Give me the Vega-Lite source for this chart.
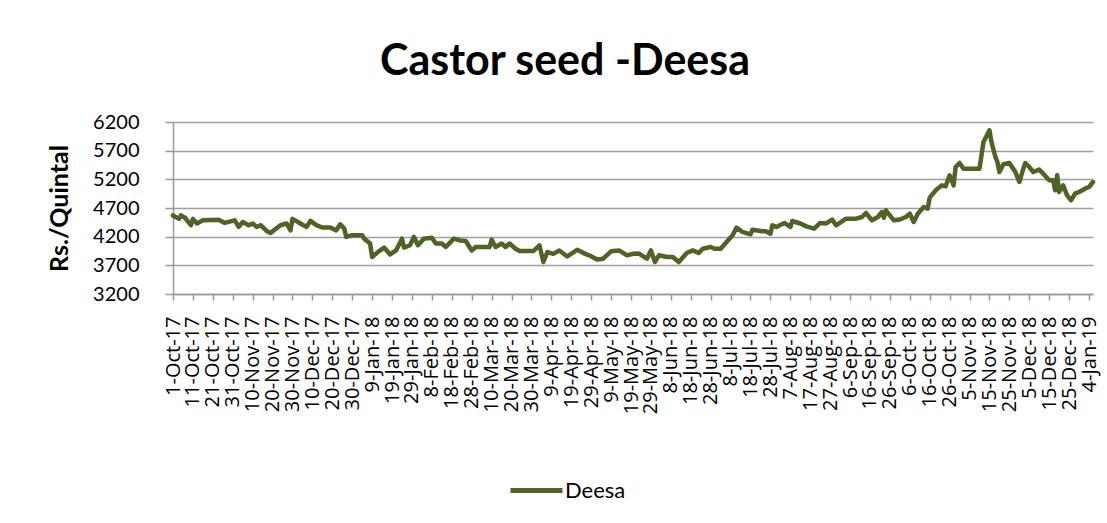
{
  "$schema": "https://vega.github.io/schema/vega-lite/v6.json",
  "autosize": {"type": "none"},
  "padding": {"left": 173, "top": 122, "right": 14, "bottom": 229},
  "width": 920,
  "height": 172,
  "background": "white",
  "title": {
    "text": "Castor seed -Deesa",
    "font": "Lato",
    "fontSize": 43,
    "fontWeight": "bold",
    "color": "#000000",
    "anchor": "middle",
    "frame": "group",
    "dx": -68,
    "offset": 28
  },
  "config": {
    "view": {"stroke": null},
    "font": "Lato"
  },
  "data": {
    "values": [
      {"date": "2017-10-01", "price": 4570, "market": "Deesa"},
      {"date": "2017-10-04", "price": 4510, "market": "Deesa"},
      {"date": "2017-10-05", "price": 4570, "market": "Deesa"},
      {"date": "2017-10-07", "price": 4530, "market": "Deesa"},
      {"date": "2017-10-10", "price": 4400, "market": "Deesa"},
      {"date": "2017-10-11", "price": 4510, "market": "Deesa"},
      {"date": "2017-10-13", "price": 4430, "market": "Deesa"},
      {"date": "2017-10-16", "price": 4485, "market": "Deesa"},
      {"date": "2017-10-24", "price": 4495, "market": "Deesa"},
      {"date": "2017-10-27", "price": 4440, "market": "Deesa"},
      {"date": "2017-11-01", "price": 4485, "market": "Deesa"},
      {"date": "2017-11-03", "price": 4370, "market": "Deesa"},
      {"date": "2017-11-05", "price": 4455, "market": "Deesa"},
      {"date": "2017-11-08", "price": 4400, "market": "Deesa"},
      {"date": "2017-11-10", "price": 4430, "market": "Deesa"},
      {"date": "2017-11-12", "price": 4370, "market": "Deesa"},
      {"date": "2017-11-14", "price": 4400, "market": "Deesa"},
      {"date": "2017-11-17", "price": 4300, "market": "Deesa"},
      {"date": "2017-11-19", "price": 4265, "market": "Deesa"},
      {"date": "2017-11-21", "price": 4320, "market": "Deesa"},
      {"date": "2017-11-24", "price": 4400, "market": "Deesa"},
      {"date": "2017-11-27", "price": 4430, "market": "Deesa"},
      {"date": "2017-11-29", "price": 4310, "market": "Deesa"},
      {"date": "2017-11-30", "price": 4510, "market": "Deesa"},
      {"date": "2017-12-04", "price": 4430, "market": "Deesa"},
      {"date": "2017-12-07", "price": 4370, "market": "Deesa"},
      {"date": "2017-12-09", "price": 4475, "market": "Deesa"},
      {"date": "2017-12-12", "price": 4400, "market": "Deesa"},
      {"date": "2017-12-15", "price": 4360, "market": "Deesa"},
      {"date": "2017-12-19", "price": 4360, "market": "Deesa"},
      {"date": "2017-12-22", "price": 4310, "market": "Deesa"},
      {"date": "2017-12-24", "price": 4415, "market": "Deesa"},
      {"date": "2017-12-26", "price": 4340, "market": "Deesa"},
      {"date": "2017-12-27", "price": 4195, "market": "Deesa"},
      {"date": "2017-12-30", "price": 4225, "market": "Deesa"},
      {"date": "2018-01-04", "price": 4225, "market": "Deesa"},
      {"date": "2018-01-05", "price": 4165, "market": "Deesa"},
      {"date": "2018-01-08", "price": 4080, "market": "Deesa"},
      {"date": "2018-01-09", "price": 3845, "market": "Deesa"},
      {"date": "2018-01-12", "price": 3935, "market": "Deesa"},
      {"date": "2018-01-15", "price": 4010, "market": "Deesa"},
      {"date": "2018-01-18", "price": 3890, "market": "Deesa"},
      {"date": "2018-01-21", "price": 3960, "market": "Deesa"},
      {"date": "2018-01-24", "price": 4165, "market": "Deesa"},
      {"date": "2018-01-25", "price": 4010, "market": "Deesa"},
      {"date": "2018-01-28", "price": 4050, "market": "Deesa"},
      {"date": "2018-01-30", "price": 4195, "market": "Deesa"},
      {"date": "2018-02-01", "price": 4050, "market": "Deesa"},
      {"date": "2018-02-04", "price": 4165, "market": "Deesa"},
      {"date": "2018-02-08", "price": 4180, "market": "Deesa"},
      {"date": "2018-02-10", "price": 4080, "market": "Deesa"},
      {"date": "2018-02-13", "price": 4080, "market": "Deesa"},
      {"date": "2018-02-15", "price": 4020, "market": "Deesa"},
      {"date": "2018-02-19", "price": 4165, "market": "Deesa"},
      {"date": "2018-02-22", "price": 4135, "market": "Deesa"},
      {"date": "2018-02-25", "price": 4125, "market": "Deesa"},
      {"date": "2018-02-28", "price": 3960, "market": "Deesa"},
      {"date": "2018-03-02", "price": 4020, "market": "Deesa"},
      {"date": "2018-03-09", "price": 4020, "market": "Deesa"},
      {"date": "2018-03-10", "price": 4148, "market": "Deesa"},
      {"date": "2018-03-12", "price": 4020, "market": "Deesa"},
      {"date": "2018-03-15", "price": 4080, "market": "Deesa"},
      {"date": "2018-03-17", "price": 4020, "market": "Deesa"},
      {"date": "2018-03-19", "price": 4080, "market": "Deesa"},
      {"date": "2018-03-22", "price": 3990, "market": "Deesa"},
      {"date": "2018-03-24", "price": 3950, "market": "Deesa"},
      {"date": "2018-03-31", "price": 3950, "market": "Deesa"},
      {"date": "2018-04-03", "price": 4050, "market": "Deesa"},
      {"date": "2018-04-05", "price": 3758, "market": "Deesa"},
      {"date": "2018-04-07", "price": 3930, "market": "Deesa"},
      {"date": "2018-04-10", "price": 3900, "market": "Deesa"},
      {"date": "2018-04-13", "price": 3960, "market": "Deesa"},
      {"date": "2018-04-17", "price": 3855, "market": "Deesa"},
      {"date": "2018-04-22", "price": 3970, "market": "Deesa"},
      {"date": "2018-04-26", "price": 3900, "market": "Deesa"},
      {"date": "2018-04-28", "price": 3875, "market": "Deesa"},
      {"date": "2018-05-02", "price": 3800, "market": "Deesa"},
      {"date": "2018-05-05", "price": 3816, "market": "Deesa"},
      {"date": "2018-05-09", "price": 3945, "market": "Deesa"},
      {"date": "2018-05-13", "price": 3960, "market": "Deesa"},
      {"date": "2018-05-17", "price": 3875, "market": "Deesa"},
      {"date": "2018-05-20", "price": 3900, "market": "Deesa"},
      {"date": "2018-05-23", "price": 3905, "market": "Deesa"},
      {"date": "2018-05-27", "price": 3816, "market": "Deesa"},
      {"date": "2018-05-29", "price": 3960, "market": "Deesa"},
      {"date": "2018-05-31", "price": 3758, "market": "Deesa"},
      {"date": "2018-06-02", "price": 3875, "market": "Deesa"},
      {"date": "2018-06-06", "price": 3845, "market": "Deesa"},
      {"date": "2018-06-09", "price": 3845, "market": "Deesa"},
      {"date": "2018-06-12", "price": 3758, "market": "Deesa"},
      {"date": "2018-06-16", "price": 3915, "market": "Deesa"},
      {"date": "2018-06-19", "price": 3960, "market": "Deesa"},
      {"date": "2018-06-22", "price": 3915, "market": "Deesa"},
      {"date": "2018-06-24", "price": 3990, "market": "Deesa"},
      {"date": "2018-06-28", "price": 4020, "market": "Deesa"},
      {"date": "2018-06-30", "price": 3990, "market": "Deesa"},
      {"date": "2018-07-03", "price": 3990, "market": "Deesa"},
      {"date": "2018-07-06", "price": 4107, "market": "Deesa"},
      {"date": "2018-07-09", "price": 4224, "market": "Deesa"},
      {"date": "2018-07-11", "price": 4357, "market": "Deesa"},
      {"date": "2018-07-14", "price": 4282, "market": "Deesa"},
      {"date": "2018-07-18", "price": 4241, "market": "Deesa"},
      {"date": "2018-07-19", "price": 4322, "market": "Deesa"},
      {"date": "2018-07-23", "price": 4300, "market": "Deesa"},
      {"date": "2018-07-26", "price": 4290, "market": "Deesa"},
      {"date": "2018-07-28", "price": 4252, "market": "Deesa"},
      {"date": "2018-07-29", "price": 4398, "market": "Deesa"},
      {"date": "2018-07-31", "price": 4370, "market": "Deesa"},
      {"date": "2018-08-04", "price": 4440, "market": "Deesa"},
      {"date": "2018-08-07", "price": 4370, "market": "Deesa"},
      {"date": "2018-08-08", "price": 4473, "market": "Deesa"},
      {"date": "2018-08-12", "price": 4430, "market": "Deesa"},
      {"date": "2018-08-15", "price": 4380, "market": "Deesa"},
      {"date": "2018-08-19", "price": 4340, "market": "Deesa"},
      {"date": "2018-08-22", "price": 4440, "market": "Deesa"},
      {"date": "2018-08-25", "price": 4430, "market": "Deesa"},
      {"date": "2018-08-28", "price": 4497, "market": "Deesa"},
      {"date": "2018-08-30", "price": 4398, "market": "Deesa"},
      {"date": "2018-09-04", "price": 4514, "market": "Deesa"},
      {"date": "2018-09-09", "price": 4514, "market": "Deesa"},
      {"date": "2018-09-12", "price": 4543, "market": "Deesa"},
      {"date": "2018-09-14", "price": 4613, "market": "Deesa"},
      {"date": "2018-09-17", "price": 4485, "market": "Deesa"},
      {"date": "2018-09-20", "price": 4543, "market": "Deesa"},
      {"date": "2018-09-22", "price": 4630, "market": "Deesa"},
      {"date": "2018-09-23", "price": 4530, "market": "Deesa"},
      {"date": "2018-09-24", "price": 4660, "market": "Deesa"},
      {"date": "2018-09-28", "price": 4485, "market": "Deesa"},
      {"date": "2018-10-01", "price": 4500, "market": "Deesa"},
      {"date": "2018-10-04", "price": 4543, "market": "Deesa"},
      {"date": "2018-10-06", "price": 4600, "market": "Deesa"},
      {"date": "2018-10-08", "price": 4456, "market": "Deesa"},
      {"date": "2018-10-10", "price": 4600, "market": "Deesa"},
      {"date": "2018-10-13", "price": 4717, "market": "Deesa"},
      {"date": "2018-10-15", "price": 4688, "market": "Deesa"},
      {"date": "2018-10-16", "price": 4880, "market": "Deesa"},
      {"date": "2018-10-19", "price": 5008, "market": "Deesa"},
      {"date": "2018-10-22", "price": 5095, "market": "Deesa"},
      {"date": "2018-10-24", "price": 5080, "market": "Deesa"},
      {"date": "2018-10-26", "price": 5270, "market": "Deesa"},
      {"date": "2018-10-28", "price": 5095, "market": "Deesa"},
      {"date": "2018-10-29", "price": 5415, "market": "Deesa"},
      {"date": "2018-10-31", "price": 5485, "market": "Deesa"},
      {"date": "2018-11-02", "price": 5386, "market": "Deesa"},
      {"date": "2018-11-05", "price": 5386, "market": "Deesa"},
      {"date": "2018-11-10", "price": 5386, "market": "Deesa"},
      {"date": "2018-11-12", "price": 5851, "market": "Deesa"},
      {"date": "2018-11-15", "price": 6055, "market": "Deesa"},
      {"date": "2018-11-16", "price": 5851, "market": "Deesa"},
      {"date": "2018-11-18", "price": 5590, "market": "Deesa"},
      {"date": "2018-11-19", "price": 5502, "market": "Deesa"},
      {"date": "2018-11-20", "price": 5328, "market": "Deesa"},
      {"date": "2018-11-22", "price": 5462, "market": "Deesa"},
      {"date": "2018-11-25", "price": 5485, "market": "Deesa"},
      {"date": "2018-11-28", "price": 5328, "market": "Deesa"},
      {"date": "2018-11-30", "price": 5153, "market": "Deesa"},
      {"date": "2018-12-02", "price": 5386, "market": "Deesa"},
      {"date": "2018-12-03", "price": 5485, "market": "Deesa"},
      {"date": "2018-12-05", "price": 5415, "market": "Deesa"},
      {"date": "2018-12-07", "price": 5328, "market": "Deesa"},
      {"date": "2018-12-10", "price": 5370, "market": "Deesa"},
      {"date": "2018-12-12", "price": 5299, "market": "Deesa"},
      {"date": "2018-12-15", "price": 5183, "market": "Deesa"},
      {"date": "2018-12-17", "price": 5183, "market": "Deesa"},
      {"date": "2018-12-18", "price": 5008, "market": "Deesa"},
      {"date": "2018-12-19", "price": 5270, "market": "Deesa"},
      {"date": "2018-12-20", "price": 4980, "market": "Deesa"},
      {"date": "2018-12-22", "price": 5095, "market": "Deesa"},
      {"date": "2018-12-24", "price": 4921, "market": "Deesa"},
      {"date": "2018-12-26", "price": 4834, "market": "Deesa"},
      {"date": "2018-12-28", "price": 4950, "market": "Deesa"},
      {"date": "2018-12-30", "price": 4980, "market": "Deesa"},
      {"date": "2019-01-02", "price": 5037, "market": "Deesa"},
      {"date": "2019-01-04", "price": 5066, "market": "Deesa"},
      {"date": "2019-01-06", "price": 5153, "market": "Deesa"}
    ]
  },
  "mark": {"type": "line", "strokeWidth": 4.5, "strokeJoin": "round", "strokeCap": "round"},
  "encoding": {
    "x": {
      "field": "date",
      "type": "temporal",
      "scale": {"type": "utc", "domain": [1506816000000, 1546732800000]},
      "axis": {
        "title": null,
        "format": "%-d-%b-%y",
        "values": [1506816000000, 1507680000000, 1508544000000, 1509408000000, 1510272000000, 1511136000000, 1512000000000, 1512864000000, 1513728000000, 1514592000000, 1515456000000, 1516320000000, 1517184000000, 1518048000000, 1518912000000, 1519776000000, 1520640000000, 1521504000000, 1522368000000, 1523232000000, 1524096000000, 1524960000000, 1525824000000, 1526688000000, 1527552000000, 1528416000000, 1529280000000, 1530144000000, 1531008000000, 1531872000000, 1532736000000, 1533600000000, 1534464000000, 1535328000000, 1536192000000, 1537056000000, 1537920000000, 1538784000000, 1539648000000, 1540512000000, 1541376000000, 1542240000000, 1543104000000, 1543968000000, 1544832000000, 1545696000000, 1546560000000],
        "labelAngle": -90,
        "labelFont": "Open Sans",
        "labelFontSize": 20,
        "labelColor": "#000000",
        "labelPadding": 16,
        "labelOverlap": false,
        "labelFlush": false,
        "grid": false,
        "domainColor": "#999999",
        "domainWidth": 1.5,
        "tickColor": "#999999",
        "tickWidth": 1.5,
        "tickSize": 6
      }
    },
    "y": {
      "field": "price",
      "type": "quantitative",
      "scale": {"domain": [3200, 6200], "nice": false, "zero": false},
      "axis": {
        "title": "Rs./Quintal",
        "titleFont": "Lato",
        "titleFontSize": 25,
        "titleFontWeight": "bold",
        "titleColor": "#000000",
        "titlePadding": 20,
        "values": [3200, 3700, 4200, 4700, 5200, 5700, 6200],
        "format": "d",
        "labelFont": "Lato",
        "labelFontSize": 20,
        "labelColor": "#000000",
        "labelPadding": 26,
        "grid": true,
        "gridColor": "#a0a0a0",
        "gridWidth": 1.5,
        "domainColor": "#999999",
        "domainWidth": 1.5,
        "tickColor": "#999999",
        "tickWidth": 1.5,
        "tickSize": 8
      }
    },
    "color": {
      "field": "market",
      "type": "nominal",
      "scale": {"range": ["#4f6228"]},
      "legend": {
        "title": null,
        "orient": "none",
        "legendX": 335,
        "legendY": 340,
        "symbolType": "stroke",
        "symbolStrokeWidth": 5,
        "symbolSize": 2700,
        "labelFont": "Lato",
        "labelFontSize": 22,
        "labelColor": "#000000",
        "labelOffset": 0
      }
    }
  }
}
